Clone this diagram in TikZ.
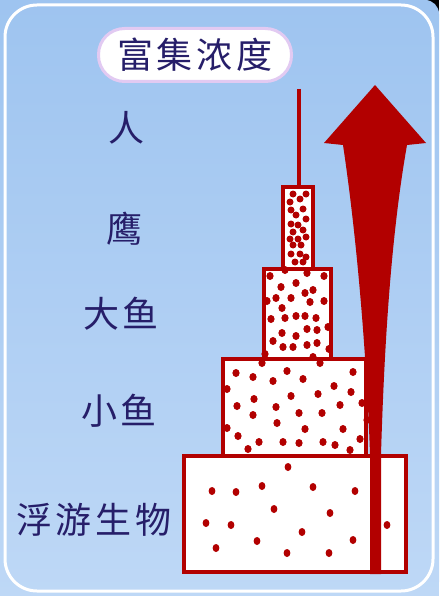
\documentclass[tikz,border=0pt]{standalone}
\usepackage{fontspec}
\usepackage{tikz}
\newfontfamily\cjk[LetterSpace=11]{Noto Sans CJK SC}
\definecolor{bgtop}{RGB}{158,196,240}
\definecolor{bgbot}{RGB}{190,216,246}
\definecolor{dkred}{RGB}{178,0,0}
\definecolor{navy}{RGB}{38,30,105}
\definecolor{lavender}{RGB}{226,202,242}

\begin{document}
\begin{tikzpicture}
    [
    x=1pt, y=-1pt,
    tier/.style = {draw=dkred,fill=white,line width=4pt,inner sep=0pt},
    lbl/.style = {font=\cjk\fontsize{36pt}{40pt}\selectfont,text=navy,inner sep=0pt},
    pill/.style = {draw=lavender,fill=white,line width=3pt,rounded corners=26pt,inner sep=0pt},
    dot/.style = {fill=dkred}
    ]
\useasboundingbox (0,0) rectangle (439,596);

% background
\fill[black] (420,0) rectangle (439,20);
\fill[bgtop] (0,0) rectangle (20,20);
\fill[bgbot] (0,576) rectangle (20,596);
\fill[bgbot] (419,576) rectangle (439,596);
\shade[top color=bgtop,bottom color=bgbot,rounded corners=14pt] (0,0) rectangle (439,596);
\draw[white,line width=3pt,rounded corners=32pt] (5,5) rectangle (433,591);

\node[pill,minimum width=193pt,minimum height=53pt] (title) at (195,55) {};
\node[lbl] (titletext) at (title.center) {富集浓度};

\node[lbl] (ren)      at (126,128) {人};
\node[lbl] (ying)     at (124,229) {鹰};
\node[lbl] (dayu)     at (121,314) {大鱼};
\node[lbl] (xiaoyu)   at (119,411) {小鱼};
\node[lbl] (fuyou)    at (94,520)  {浮游生物};

% pyramid
\node[tier,minimum width=222pt,minimum height=116pt] (plankton)  at (295,514) {};
\node[tier,minimum width=143pt,minimum height=97pt]  (smallfish) at (294.5,407.5) {};
\node[tier,minimum width=67pt,minimum height=90pt]   (bigfish)   at (297.5,314) {};
\node[tier,minimum width=30pt,minimum height=82pt]   (eagle)     at (298,228) {};

\foreach \p in {(288,467),(212,491),(236,492),(262,486),(313,487),(355,491),(274,509),(330,513),(206,523),(231,525),(302,532),(387,525),(257,541),(353,540),(216,548),(287,553),(329,553)}
    \fill[dot] \p ellipse[x radius=3.4pt,y radius=4pt];
\foreach \p in {(236,373),(253,377),(273,381),(287,371),(303,379),(353,372),(334,386),(227,389),(254,399),(291,396),(318,394),(351,392),(237,406),(276,407),(299,413),(322,413),(340,405),(362,403),(253,415),(277,423),(305,429),(343,429),(367,420),(227,428),(238,436),(259,442),(283,442),(299,443),(323,442),(335,445),(360,439),(248,449),(350,450),(262,363),(320,363)}
    \fill[dot] \p ellipse[x radius=3.6pt,y radius=4pt];
\foreach \p in {(270,276),(285,270),(307,273),(324,276),(296,283),(281,287),(313,290),(305,293),(267,301),(276,298),(291,298),(310,302),(324,301),(282,308),(296,316),(305,316),(285,318),(271,319),(316,318),(307,329),(317,330),(296,336),(282,333),(328,327),(273,341),(283,347),(293,347),(307,345),(317,343),(329,349),(265,354),(313,357)}
    \fill[dot] \p ellipse[x radius=3.6pt,y radius=4pt];
\foreach \p in {(293,194),(306,194),(290,202),(300,199),(291,210),(303,209),(296,215),(306,219),(291,224),(298,225),(293,232),(303,230),(290,239),(298,239),(306,237),(293,245),(301,245),(291,254),(300,254),(306,257),(295,262),(303,262)}
    \fill[dot] \p circle[radius=3.5pt];

\coordinate (needletop) at (299,89);
\draw[dkred,line width=4.5pt] (needletop) -- (needletop |- eagle.north);

% big arrow
\fill[dkred] (375,85) -- (426,143) -- (407,145)
    .. controls (389.3,245) and (383.7,366) .. (381,454) -- (381,574)
    -- (370,574) -- (370,454)
    .. controls (367,366) and (358,245) .. (343,145) -- (324,143) -- cycle;

\end{tikzpicture}
\end{document}
